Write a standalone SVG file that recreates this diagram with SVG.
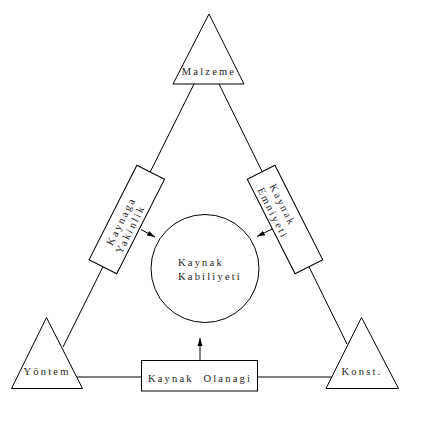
<svg xmlns="http://www.w3.org/2000/svg" width="445" height="428" viewBox="0 0 445 428">
<style>
.s{fill:none;stroke:#000;stroke-width:1}
.n{fill:#fff;stroke:#000;stroke-width:1}
.t{font-family:"Liberation Serif",serif;font-size:10.5px;letter-spacing:2.2px;fill:#222}
.m{text-anchor:middle}
</style>
<defs>
<marker id="ah" viewBox="0 0 8 6" refX="8" refY="3" markerWidth="8" markerHeight="6" markerUnits="userSpaceOnUse" orient="auto">
<path d="M0,0.5 L8,3 L0,5.5 Z" fill="#000"/>
</marker>
</defs>
<rect width="445" height="428" fill="#fff"/>
<g id="connectors">
<line class="s" x1="194" y1="84" x2="63" y2="347"/>
<line class="s" x1="219" y1="84" x2="347" y2="344"/>
<line class="s" x1="70" y1="377" x2="335" y2="377"/>
<line class="s" x1="141" y1="229.5" x2="155" y2="237" marker-end="url(#ah)"/>
<line class="s" x1="272" y1="229" x2="257" y2="236.5" marker-end="url(#ah)"/>
<line class="s" x1="200" y1="360" x2="200" y2="338" marker-end="url(#ah)"/>
</g>
<g id="malzeme">
<polygon class="n" points="209,14 244,84 173,84"/>
<text class="t m" x="209" y="75">Malzeme</text>
</g>
<g id="yontem">
<polygon class="n" points="46.5,317.5 82.5,388.5 11.5,388.5"/>
<text class="t m" x="47" y="375">Yöntem</text>
</g>
<g id="konst">
<polygon class="n" points="361.5,317.5 398.5,388.5 326,388.5"/>
<text class="t m" x="362" y="375">Konst.</text>
</g>
<g id="kaynaga-yakinlik" transform="translate(126.8,219.5) rotate(-63.2)">
<rect class="n" x="-53" y="-15.5" width="106" height="31"/>
<text class="t m" x="-4" y="-1">Kaynaga</text>
<text class="t m" x="-7" y="11">Yakinlik</text>
</g>
<g id="kaynak-emniyeti" transform="translate(285,219.5) rotate(63.2)">
<rect class="n" x="-53" y="-15.5" width="106" height="31"/>
<text class="t m" x="-14" y="-1">Kaynak</text>
<text class="t m" x="-11" y="11.5">Emniyeti</text>
</g>
<g id="kaynak-olanagi">
<rect class="n" x="141.5" y="360.5" width="116" height="30.5"/>
<text class="t m" x="200" y="382" xml:space="preserve">Kaynak  Olanagi</text>
</g>
<g id="kaynak-kabiliyeti">
<circle class="n" cx="205" cy="268.5" r="54"/>
<text class="t" x="178" y="266">Kaynak</text>
<text class="t" x="178" y="280">Kabiliyeti</text>
</g>
</svg>
